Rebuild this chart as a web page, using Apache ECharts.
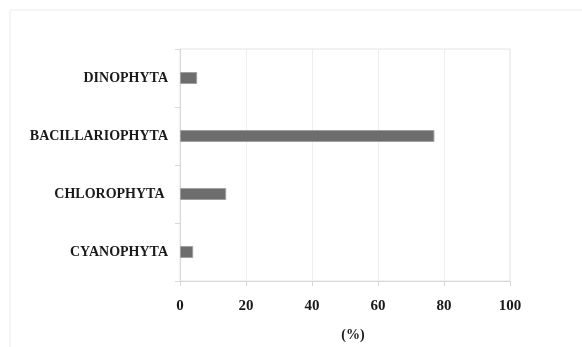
<!DOCTYPE html>
<html><head><meta charset="utf-8">
<script src="https://cdn.jsdelivr.net/npm/echarts@6/dist/echarts.min.js"></script>
<style>html,body{margin:0;padding:0;background:#fff;overflow:hidden}#c{width:582px;height:347px}</style>
</head><body><div id="c"></div>
<script>
const categories = ['CYANOPHYTA', 'CHLOROPHYTA ', 'BACILLARIOPHYTA', 'DINOPHYTA'];
const values = [4.0, 14.0, 77.1, 5.2];
const xTicks = [0, 20, 40, 60, 80, 100];

const chart = echarts.init(document.getElementById('c'));
const font = '"Liberation Serif", "Times New Roman", serif';
chart.setOption({
  animation: false,
  graphic: [{type: 'rect', shape: {x: 10, y: 10, width: 700, height: 500}, style: {fill: 'none', stroke: '#ececec', lineWidth: 1}}],
  grid: {left: 180, right: 72, top: 49, bottom: 66, show: true, borderColor: '#e4e4e4', borderWidth: 1,
         containLabel: false, outerBoundsMode: 'none'},
  xAxis: {
    type: 'value', min: xTicks[0], max: xTicks[xTicks.length - 1], interval: 20,
    name: '(%)', nameLocation: 'middle', nameGap: 47,
    nameTextStyle: {fontFamily: font, fontWeight: 'bold', fontSize: 14, color: '#1a1a1a', padding: [0, 0, 0, 16]},
    axisLine: {show: true, lineStyle: {color: '#d8d8d8'}},
    axisTick: {show: true, length: 5, lineStyle: {color: '#d8d8d8'}},
    axisLabel: {margin: 18, fontFamily: font, fontWeight: 'bold', fontSize: 15, color: '#1a1a1a'},
    splitLine: {show: true, lineStyle: {color: '#eeeeee'}}
  },
  yAxis: {
    type: 'category', data: categories,
    axisLine: {show: true, lineStyle: {color: '#d8d8d8'}},
    axisTick: {show: true, length: 5, lineStyle: {color: '#d8d8d8'}},
    axisLabel: {margin: 12, fontFamily: font, fontWeight: 'bold', fontSize: 14, color: '#1a1a1a'},
    splitLine: {show: false}
  },
  series: [{
    type: 'bar', data: values, barWidth: 12,
    itemStyle: {color: '#6d6d6d', borderColor: '#a0a0a0', borderWidth: 1}
  }]
});
</script></body></html>
